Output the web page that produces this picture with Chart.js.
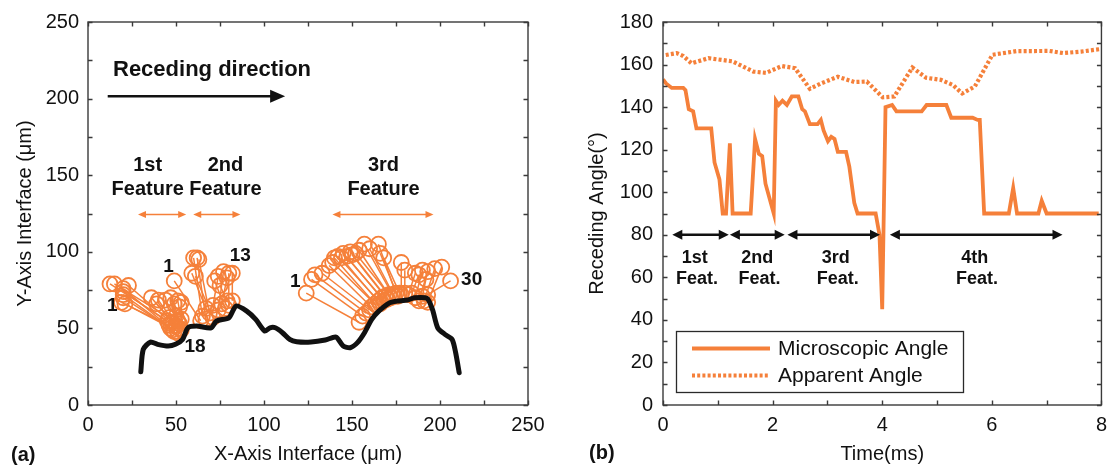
<!DOCTYPE html>
<html>
<head>
<meta charset="utf-8">
<script src="https://cdn.jsdelivr.net/npm/chart.js@4.4.1/dist/chart.umd.min.js"></script>
<style>
  html, body { margin: 0; padding: 0; background: #fff; width: 1115px; height: 466px; overflow: hidden; }
  .panel { position: absolute; top: 0; }
  #wrapA { left: 0; width: 557px; height: 466px; }
  #wrapB { left: 557px; width: 558px; height: 466px; }
</style>
</head>
<body>
<div id="wrapA" class="panel"><canvas id="chartA" width="557" height="466"></canvas></div>
<div id="wrapB" class="panel"><canvas id="chartB" width="558" height="466"></canvas></div>
<script>
// ---------- Panel (a): interface profile (µm) ----------
const profileX = [30, 31.4, 35.5, 39.5, 45.6, 49.7, 53.7, 56.8, 61.8, 70, 73, 80.1, 84.1, 90.2, 95.3, 100.4, 103.4, 106.4, 110.5, 114.6, 118.6, 126.7, 134.8, 140.9, 145, 149, 153.1, 157.1, 161.2, 165.2, 171.3, 175.4, 181.5, 185.5, 192.6, 195.7, 198.7, 202.8, 206.9, 208.9, 210.9];
const profileY = [21.7, 36.3, 41.1, 39.6, 38.5, 39.6, 42.8, 50.4, 51.5, 50.4, 54.8, 57, 64.6, 61.3, 55.9, 48.3, 50.4, 50.4, 47.2, 42.8, 41.3, 41.1, 42.4, 44.3, 38.5, 37.4, 40.7, 47.2, 55.9, 61.3, 66.7, 67.8, 68.5, 70, 69.6, 62.4, 50.4, 46.1, 42.8, 34.1, 21.1];

// Contact-line markers: outer end and end on the interface, per feature
const feature1Outer = [[19,67],[20,70],[20,72],[20,74],[20,76],[12.5,79],[15,79],[23,78],[21,66],[36,70],[40,68.5],[44,68.5],[39,66],[47,70],[49,66],[51,68],[52,64],[53,67]];
const feature1Inner = [[46,52],[47,50],[48,49],[47,53],[49,48],[45,55],[46,57],[50,51],[51,48],[48,54],[50,52],[51,55],[52,50],[50,58],[52,53],[53,56],[51,47],[53,49]];
const feature2Outer = [[49,81],[60,96],[62,96],[63,95],[59,86],[61,84],[74,84],[77,87],[79,83],[72,81],[75,78],[80,86],[82,86]];
const feature2Inner = [[64,55],[65,58],[67,56],[69,60],[67,63],[71,57],[71,65],[74,62],[76,66],[78,63],[79,68],[80,65],[82,68]];
const feature3Outer = [[124,73],[127,82],[129,85],[133,86],[137,91],[139,93],[140,96],[142,97],[144,96],[145,99],[147,97],[149,100],[150,98],[152,99],[154,101],[157,105],[160,102],[165,105],[166,99],[168,96],[178,93],[180,88],[186,86],[188,85],[190,88],[193,87],[192,82],[197,89],[201,90],[206,81]];
const feature3Inner = [[154,54],[156,58],[158,60],[160,62],[161,64],[163,66],[164,65],[165,68],[166,66],[167,70],[168,68],[169,71],[170,69],[171,72],[172,70],[173,72],[174,71],[175,73],[176,71],[177,73],[178,72],[180,73],[182,72],[184,73],[186,70],[188,68],[190,71],[191,68],[193,67],[193,72]];

// Feature spans and labels
const featureSpansA = [[28.4, 55.8], [59.8, 86.6], [138.9, 196.3]];
const featureLabelsA = [['1st', 33.9], ['2nd', 78.1], ['3rd', 167.9]];
const markerNumbersA = [['1', 13.8, 65], ['18', 60.8, 38.3], ['1', 45.8, 90.5], ['13', 86.5, 97.5], ['1', 117.8, 80.7], ['30', 218, 82]];

// ---------- Panel (b): receding angle vs time ----------
const microTime = [0, 0.06, 0.16, 0.37, 0.41, 0.47, 0.55, 0.61, 0.88, 0.94, 1.03, 1.09, 1.15, 1.22, 1.27, 1.60, 1.68, 1.75, 1.81, 1.87, 2.02, 2.06, 2.11, 2.18, 2.26, 2.35, 2.47, 2.54, 2.59, 2.68, 2.82, 2.88, 2.93, 3.01, 3.07, 3.13, 3.19, 3.34, 3.40, 3.49, 3.55, 3.88, 3.95, 4.00, 4.06, 4.18, 4.26, 4.72, 4.81, 5.17, 5.26, 5.65, 5.74, 5.78, 5.86, 6.31, 6.39, 6.46, 6.85, 6.91, 7.00, 7.95];
const microAngle = [153, 151, 149, 149, 148, 139, 138, 130, 130, 114, 106, 90, 90, 123, 90, 90, 125, 118, 117, 104, 90, 143, 141, 143, 141, 145, 145, 139, 138, 132, 132, 134, 129, 124, 126, 125, 119, 119, 112, 95, 90, 90, 80, 45, 140, 141, 138, 138, 141, 141, 135, 135, 134, 134, 90, 90, 102, 90, 90, 96, 90, 90];
const apparentTime = [0.05, 0.25, 0.37, 0.52, 0.83, 1.27, 1.65, 1.88, 2.17, 2.41, 2.68, 2.89, 3.19, 3.49, 3.72, 4.01, 4.22, 4.55, 4.80, 5.07, 5.29, 5.46, 5.69, 6.01, 6.45, 7.05, 7.30, 7.63, 7.96];
const apparentAngle = [164.5, 165.4, 164, 160.6, 163, 161.5, 156.7, 156.1, 159.3, 158.3, 148.6, 151.2, 154.3, 151.8, 152, 144.6, 145, 158.6, 153.8, 152.8, 150.4, 146.4, 149.7, 164.6, 166.3, 166.4, 165.4, 166.1, 167.2];

const featureSpansB = [[0.17, 1.2], [1.22, 2.22], [2.27, 3.96], [4.14, 7.29]];
const featureLabelsB = [['1st', 0.58], ['2nd', 1.72], ['3rd', 3.15], ['4th', 5.69]];

const ORANGE = '#F5803A';
const INK = '#111';
const FAMILY = "'Liberation Sans', Arial, Helvetica, sans-serif";

function pts(xs, ys) { return xs.map((x, i) => ({ x, y: ys[i] })); }

// Box around the plot area plus inward tick marks on all four sides
const frameTicks = {
  id: 'frameTicks',
  afterDraw(chart) {
    const { ctx, chartArea: a } = chart;
    const xs = chart.scales.x, ys = chart.scales.y;
    ctx.save();
    ctx.strokeStyle = '#3a3a3a';
    ctx.lineWidth = 1.4;
    ctx.strokeRect(a.left, a.top, a.right - a.left, a.bottom - a.top);
    ctx.beginPath();
    const L = 4.5;
    xs.ticks.forEach(t => {
      const p = Math.round(xs.getPixelForValue(t.value)) + 0.5;
      ctx.moveTo(p, a.bottom); ctx.lineTo(p, a.bottom - L);
      ctx.moveTo(p, a.top); ctx.lineTo(p, a.top + L);
    });
    ys.ticks.forEach(t => {
      const p = Math.round(ys.getPixelForValue(t.value)) + 0.5;
      ctx.moveTo(a.left, p); ctx.lineTo(a.left + L, p);
      ctx.moveTo(a.right, p); ctx.lineTo(a.right - L, p);
    });
    ctx.stroke();
    ctx.restore();
  }
};

function arrowHead(ctx, x, y, dir, len, half) {
  ctx.beginPath();
  ctx.moveTo(x, y);
  ctx.lineTo(x - dir * len, y - half);
  ctx.lineTo(x - dir * len, y + half);
  ctx.closePath();
  ctx.fill();
}

function doubleArrow(ctx, x1, x2, y, color, width, len, half) {
  ctx.strokeStyle = color; ctx.fillStyle = color; ctx.lineWidth = width;
  ctx.beginPath(); ctx.moveTo(x1 + len * 0.6, y); ctx.lineTo(x2 - len * 0.6, y); ctx.stroke();
  arrowHead(ctx, x1, y, -1, len, half);
  arrowHead(ctx, x2, y, 1, len, half);
}

// Text and arrows for panel (a)
const notesA = {
  id: 'notesA',
  afterDatasetsDraw(chart) {
    const { ctx } = chart;
    const X = v => chart.scales.x.getPixelForValue(v);
    const Y = v => chart.scales.y.getPixelForValue(v);
    ctx.save();
    ctx.fillStyle = INK;
    ctx.font = `bold 22px ${FAMILY}`;
    ctx.textAlign = 'left'; ctx.textBaseline = 'middle';
    ctx.fillText('Receding direction', X(14.2), Y(219));
    // direction arrow
    ctx.strokeStyle = INK; ctx.lineWidth = 2.6;
    ctx.beginPath(); ctx.moveTo(X(11.2), Y(201.5)); ctx.lineTo(X(104), Y(201.5)); ctx.stroke();
    arrowHead(ctx, X(112), Y(201.5), 1, 15, 6.5);

    ctx.font = `bold 20px ${FAMILY}`;
    ctx.textAlign = 'center';
    featureLabelsA.forEach(([t, x]) => {
      ctx.fillText(t, X(x), Y(156.5));
      ctx.fillText('Feature', X(x), Y(140.7));
    });
    featureSpansA.forEach(([a, b]) => doubleArrow(ctx, X(a), X(b), Y(124.3), ORANGE, 1.4, 8, 3.5));

    ctx.fillStyle = INK;
    ctx.font = `bold 19px ${FAMILY}`;
    markerNumbersA.forEach(([t, x, y]) => ctx.fillText(t, X(x), Y(y)));

    ctx.font = `bold 20px ${FAMILY}`;
    ctx.textAlign = 'left';
    ctx.fillText('(a)', 11, 455);
    ctx.restore();
  }
};

// Feature arrows, labels and legend for panel (b)
const notesB = {
  id: 'notesB',
  afterDatasetsDraw(chart) {
    const { ctx } = chart;
    const X = v => chart.scales.x.getPixelForValue(v);
    const Y = v => chart.scales.y.getPixelForValue(v);
    ctx.save();
    featureSpansB.forEach(([a, b]) => doubleArrow(ctx, X(a), X(b), Y(80), INK, 2.4, 10, 5));
    ctx.fillStyle = INK;
    ctx.font = `bold 18px ${FAMILY}`;
    ctx.textAlign = 'center'; ctx.textBaseline = 'middle';
    featureLabelsB.forEach(([t, x]) => {
      ctx.fillText(t, X(x), Y(69.3));
      ctx.fillText('Feat.', X(x + 0.04), Y(59.4));
    });

    // legend
    const bx = 119, by = 331, bw = 287, bh = 61;
    ctx.fillStyle = '#fff';
    ctx.fillRect(bx, by, bw, bh);
    ctx.strokeStyle = '#2a2a2a'; ctx.lineWidth = 1.3;
    ctx.strokeRect(bx + 0.5, by + 0.5, bw, bh);
    ctx.strokeStyle = ORANGE; ctx.lineWidth = 3.8;
    ctx.beginPath(); ctx.moveTo(135, 348.5); ctx.lineTo(213, 348.5); ctx.stroke();
    ctx.lineWidth = 4.2; ctx.setLineDash([3, 2.2]);
    ctx.beginPath(); ctx.moveTo(135, 375.5); ctx.lineTo(213, 375.5); ctx.stroke();
    ctx.setLineDash([]);
    ctx.fillStyle = INK;
    ctx.font = `21px ${FAMILY}`;
    ctx.textAlign = 'left';
    ctx.fillText('Microscopic Angle', 221, 349);
    ctx.fillText('Apparent Angle', 221, 376);

    ctx.font = `bold 20px ${FAMILY}`;
    ctx.fillText('(b)', 32, 453);
    ctx.restore();
  }
};

const tickFont = { family: FAMILY, size: 20 };
const titleFont = { family: FAMILY, size: 20 };

// ----- Chart (a) -----
const dumbbells = [];
[[feature1Outer, feature1Inner], [feature2Outer, feature2Inner], [feature3Outer, feature3Inner]].forEach(([outer, inner]) => {
  outer.forEach((p, i) => {
    dumbbells.push({
      data: [{ x: p[0], y: p[1] }, { x: inner[i][0], y: inner[i][1] }],
      showLine: true,
      borderColor: ORANGE,
      borderWidth: 1.5,
      pointRadius: 7.5,
      pointBorderWidth: 1.8,
      pointBorderColor: ORANGE,
      pointBackgroundColor: 'rgba(0,0,0,0)'
    });
  });
});

new Chart(document.getElementById('chartA'), {
  type: 'scatter',
  data: {
    datasets: [
      {
        data: pts(profileX, profileY),
        showLine: true,
        borderColor: INK,
        borderWidth: 5,
        tension: 0.25,
        pointRadius: 0,
        borderJoinStyle: 'round',
        borderCapStyle: 'round'
      },
      ...dumbbells
    ]
  },
  options: {
    responsive: false,
    animation: false,
    events: [],
    layout: { padding: { left: 0, right: 29, top: 22, bottom: 0 } },
    plugins: { legend: { display: false }, tooltip: { enabled: false } },
    scales: {
      x: {
        type: 'linear', min: 0, max: 250,
        grid: { display: false, drawTicks: false },
        border: { display: false },
        ticks: { stepSize: 25, autoSkip: false, maxRotation: 0, padding: 8, color: INK, font: tickFont,
                 callback: v => (v % 50 === 0 ? v : '') },
        title: { display: true, text: 'X-Axis Interface (μm)', color: INK, font: titleFont, padding: { top: 0, bottom: 0 } },
        afterFit: s => { s.height = 61; }
      },
      y: {
        type: 'linear', min: 0, max: 250,
        grid: { display: false, drawTicks: false },
        border: { display: false },
        ticks: { stepSize: 25, autoSkip: false, padding: 9, color: INK, font: tickFont,
                 callback: v => (v % 50 === 0 ? v : '') },
        title: { display: true, text: 'Y-Axis Interface (μm)', color: INK, font: titleFont, padding: { top: 13, bottom: 0 } },
        afterFit: s => { s.width = 88; }
      }
    }
  },
  plugins: [frameTicks, notesA]
});

// ----- Chart (b) -----
new Chart(document.getElementById('chartB'), {
  type: 'scatter',
  data: {
    datasets: [
      {
        label: 'Microscopic Angle',
        data: pts(microTime, microAngle),
        showLine: true,
        borderColor: ORANGE,
        borderWidth: 3.8,
        pointRadius: 0,
        borderJoinStyle: 'miter'
      },
      {
        label: 'Apparent Angle',
        data: pts(apparentTime, apparentAngle),
        showLine: true,
        borderColor: ORANGE,
        borderWidth: 4.2,
        borderDash: [3, 2.2],
        pointRadius: 0
      }
    ]
  },
  options: {
    responsive: false,
    animation: false,
    events: [],
    layout: { padding: { left: 0, right: 8, top: 22, bottom: 0 } },
    plugins: { legend: { display: false }, tooltip: { enabled: false } },
    scales: {
      x: {
        type: 'linear', min: 0, max: 8,
        grid: { display: false, drawTicks: false },
        border: { display: false },
        ticks: { stepSize: 1, autoSkip: false, maxRotation: 0, padding: 8, color: INK, font: tickFont,
                 callback: v => (v % 2 === 0 ? v : '') },
        title: { display: true, text: 'Time(ms)', color: INK, font: titleFont, padding: { top: 0, bottom: 0 } },
        afterFit: s => { s.height = 61; }
      },
      y: {
        type: 'linear', min: 0, max: 180,
        grid: { display: false, drawTicks: false },
        border: { display: false },
        ticks: { stepSize: 10, autoSkip: false, padding: 10, color: INK, font: tickFont,
                 callback: v => (v % 20 === 0 ? v : '') },
        title: { display: true, text: 'Receding Angle(°)', color: INK, font: titleFont, padding: { top: 28, bottom: 0 } },
        afterFit: s => { s.width = 106; }
      }
    }
  },
  plugins: [frameTicks, notesB]
});
</script>
</body>
</html>
